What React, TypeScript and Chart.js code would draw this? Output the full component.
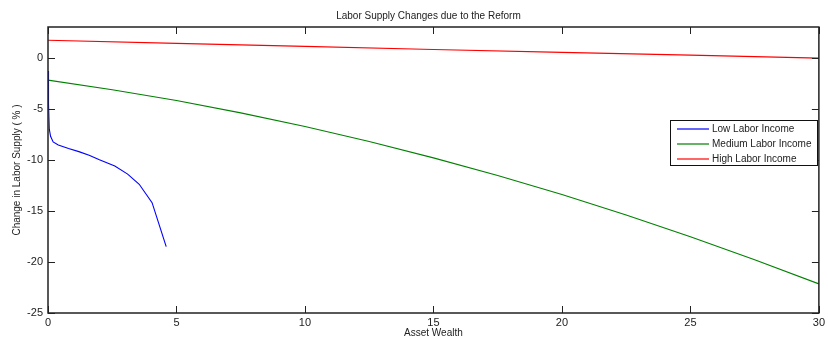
import React, { useEffect, useRef } from "react";
import { Chart, registerables } from "chart.js";

Chart.register(...registerables);

const TITLE = "Labor Supply Changes due to the Reform";
const X_TITLE = "Asset Wealth";
const Y_TITLE = "Change in Labor Supply ( % )";

const seriesNames = ["Low Labor Income", "Medium Labor Income", "High Labor Income"];
const seriesColors = ["#0000ff", "#008000", "#ff0000"];

// Low labor income: asset wealth vs. change (%)
const lowX = [0, 0.02, 0.05, 0.1, 0.2, 0.4, 0.8, 1.2, 1.6, 2.0, 2.6, 3.1, 3.55, 4.05, 4.6];
const lowY = [-1.3, -4.5, -7.0, -7.7, -8.25, -8.55, -8.9, -9.2, -9.55, -10.0, -10.6, -11.4, -12.4, -14.2, -18.5];

// Medium labor income
const medX = [0, 2.5, 5, 7.5, 10, 12.5, 15, 17.5, 20, 22.5, 25, 27.5, 30];
const medY = [-2.2, -3.14, -4.2, -5.41, -6.74, -8.21, -9.81, -11.54, -13.4, -15.4, -17.53, -19.79, -22.15];

// High labor income
const highX = [0, 5, 10, 15, 20, 25, 30];
const highY = [1.7, 1.4, 1.1, 0.8, 0.52, 0.25, -0.05];

const X_MIN = 0;
const X_MAX = 30;
const Y_MIN = -25;
const Y_MAX = 3;

const FONT = "'Liberation Sans', Arial, sans-serif";
const INK = "#222222";

const toPoints = (xs: number[], ys: number[]) => xs.map((x, i) => ({ x, y: ys[i] }));

// Box frame, inward tick marks, title and legend in MATLAB style
const framePlugin = {
  id: "frame",
  afterDraw(chart: any) {
    const { ctx, chartArea: a, scales } = chart;
    const tl = 7;
    ctx.save();
    ctx.strokeStyle = INK;
    ctx.lineWidth = 1;
    scales.x.ticks.forEach((t: any) => {
      const px = Math.round(scales.x.getPixelForValue(t.value)) + 0.5;
      ctx.beginPath();
      ctx.moveTo(px, a.bottom);
      ctx.lineTo(px, a.bottom - tl);
      ctx.moveTo(px, a.top);
      ctx.lineTo(px, a.top + tl);
      ctx.stroke();
    });
    scales.y.ticks.forEach((t: any) => {
      const py = Math.round(scales.y.getPixelForValue(t.value)) + 0.5;
      ctx.beginPath();
      ctx.moveTo(a.left, py);
      ctx.lineTo(a.left + tl, py);
      ctx.moveTo(a.right, py);
      ctx.lineTo(a.right - tl, py);
      ctx.stroke();
    });
    ctx.lineWidth = 1.5;
    ctx.strokeRect(a.left, a.top, a.right - a.left, a.bottom - a.top);

    // title
    ctx.fillStyle = INK;
    ctx.font = `10px ${FONT}`;
    ctx.textAlign = "center";
    ctx.textBaseline = "middle";
    ctx.fillText(TITLE, (a.left + a.right) / 2 - 5, 16);

    // legend
    const lx = 670, ly = 120, lw = 147, lh = 45;
    ctx.fillStyle = "#ffffff";
    ctx.fillRect(lx, ly, lw, lh);
    ctx.strokeStyle = "#111111";
    ctx.lineWidth = 1;
    ctx.strokeRect(lx + 0.5, ly + 0.5, lw, lh);
    ctx.textAlign = "left";
    seriesNames.forEach((name, i) => {
      const y = ly + 8.5 + i * 15;
      ctx.beginPath();
      ctx.strokeStyle = seriesColors[i];
      ctx.lineWidth = 1.2;
      ctx.moveTo(lx + 7, Math.round(y));
      ctx.lineTo(lx + 39, Math.round(y));
      ctx.stroke();
      ctx.fillStyle = INK;
      ctx.fillText(name, lx + 42, y + 0.5);
    });
    ctx.restore();
  },
};

export default function App() {
  const ref = useRef<HTMLCanvasElement | null>(null);

  useEffect(() => {
    document.body.style.margin = "0";
    const canvas = ref.current;
    if (!canvas) return;
    const mk = (i: number, xs: number[], ys: number[]) => ({
      label: seriesNames[i],
      data: toPoints(xs, ys),
      borderColor: seriesColors[i],
      backgroundColor: seriesColors[i],
      borderWidth: 1.1,
      pointRadius: 0,
      tension: 0,
      fill: false,
    });
    const chart = new Chart(canvas, {
      type: "line",
      data: {
        datasets: [mk(0, lowX, lowY), mk(1, medX, medY), mk(2, highX, highY)],
      },
      options: {
        responsive: false,
        animation: false,
        layout: { padding: { top: 27, right: 8, left: 0, bottom: 0 } },
        plugins: {
          legend: { display: false },
          tooltip: { enabled: false },
          title: { display: false },
        },
        scales: {
          x: {
            type: "linear",
            min: X_MIN,
            max: X_MAX,
            ticks: {
              stepSize: 5,
              color: INK,
              font: { family: FONT, size: 11 },
              padding: 3,
              maxRotation: 0,
            },
            grid: { display: false, drawTicks: false },
            border: { display: false },
            title: {
              display: true,
              text: X_TITLE,
              color: INK,
              font: { family: FONT, size: 10 },
              padding: { top: 0, bottom: 1 },
            },
            afterFit: (s: any) => {
              s.height = 27;
            },
          },
          y: {
            type: "linear",
            min: Y_MIN,
            max: Y_MAX,
            afterBuildTicks: (s: any) => {
              s.ticks = s.ticks.filter((t: any) => t.value % 5 === 0);
            },
            ticks: {
              stepSize: 5,
              color: INK,
              font: { family: FONT, size: 11 },
              padding: 5,
            },
            grid: { display: false, drawTicks: false },
            border: { display: false },
            title: {
              display: true,
              text: Y_TITLE,
              color: INK,
              font: { family: FONT, size: 10 },
              padding: { top: 11, bottom: 0 },
            },
            afterFit: (s: any) => {
              s.width = 48;
            },
          },
        },
      },
      plugins: [framePlugin],
    });
    return () => chart.destroy();
  }, []);

  return (
    <div style={{ position: "absolute", left: 0, top: 0, width: 828, height: 340, background: "#fff" }}>
      <canvas ref={ref} width={828} height={340} style={{ width: 828, height: 340 }} />
    </div>
  );
}
